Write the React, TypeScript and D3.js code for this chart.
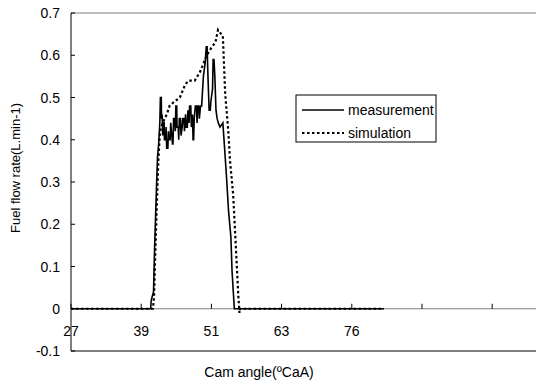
import React from 'react';
import { scaleLinear, line } from 'd3';

// cam angle (deg), fuel flow rate (L/min)
const measurement: [number, number][] = [
  [27, 0], [40.9, 0], [41.0, 0.02], [41.2, 0.03], [41.4, 0.04], [41.6, 0.15], [41.9, 0.28],
  [42.1, 0.36], [42.3, 0.39], [42.5, 0.44], [42.6, 0.5], [42.75, 0.5], [42.8, 0.45], [42.9, 0.46], [43.0, 0.41],
  [43.1, 0.44], [43.25, 0.44], [43.3, 0.4], [43.5, 0.4], [43.6, 0.43], [43.7, 0.38], [43.9, 0.38], [44.0, 0.42],
  [44.1, 0.4], [44.3, 0.4], [44.4, 0.44], [44.6, 0.41], [44.7, 0.39], [44.8, 0.39], [44.9, 0.45], [45.1, 0.45],
  [45.2, 0.42], [45.3, 0.48], [45.45, 0.48], [45.5, 0.43], [45.7, 0.43], [45.8, 0.4], [45.9, 0.45],
  [46.1, 0.45], [46.2, 0.41], [46.4, 0.43], [46.5, 0.45], [46.7, 0.45], [46.8, 0.42], [47.0, 0.46],
  [47.1, 0.43], [47.3, 0.43], [47.4, 0.47], [47.6, 0.44], [47.7, 0.48], [47.9, 0.48], [48.0, 0.43],
  [48.2, 0.46], [48.3, 0.4], [48.4, 0.4], [48.5, 0.45], [48.7, 0.48], [48.9, 0.48], [49.0, 0.44],
  [49.1, 0.48], [49.3, 0.48], [49.4, 0.45], [49.6, 0.48], [49.8, 0.48], [50.1, 0.55], [50.4, 0.58],
  [50.6, 0.62], [50.75, 0.62], [50.9, 0.55], [51.1, 0.47], [51.3, 0.47], [51.4, 0.49], [51.7, 0.52],
  [51.8, 0.59], [51.95, 0.59], [52.1, 0.55], [52.3, 0.47], [52.5, 0.45], [52.7, 0.44], [53.0, 0.43],
  [53.5, 0.44], [53.8, 0.38], [54.1, 0.32], [54.5, 0.23], [54.9, 0.17], [55.1, 0.09], [55.5, 0], [81.6, 0],
];

const simulation: [number, number][] = [
  [27, 0], [41.3, 0], [41.5, 0.03], [41.66, 0.11], [41.96, 0.24], [42.24, 0.35],
  [42.53, 0.42], [43.0, 0.44], [43.7, 0.46], [44.2, 0.48], [45.0, 0.49], [46.0, 0.5],
  [46.9, 0.53], [47.5, 0.54], [48.6, 0.54], [49.5, 0.56], [50.7, 0.6], [51.6, 0.62],
  [52.2, 0.63], [52.65, 0.66], [53.5, 0.645], [53.9, 0.51], [54.45, 0.42], [54.75, 0.35],
  [55.3, 0.27], [55.6, 0.19], [55.9, 0.11], [56.2, 0.03], [56.4, -0.01], [56.5, 0], [81.6, 0],
];

const xTickLabels = ['27', '39', '51', '63', '76'];
const yTicks = [-0.1, 0, 0.1, 0.2, 0.3, 0.4, 0.5, 0.6, 0.7];

const W = 536, H = 387;
const left = 71, top = 13, bottom = 351;
const tickStep = 12.25;
const font = 'Liberation Sans, Arial, sans-serif';

export default function App() {
  const x = scaleLinear().domain([27, 27 + tickStep * 8]).range([left, left + 70.2 * 8]);
  const y = scaleLinear().domain([-0.1, 0.7]).range([bottom, top]);
  const path = line<[number, number]>().x((d) => x(d[0])).y((d) => y(d[1]));
  const xTicks = [...Array(8)].map((_, i) => 27 + i * tickStep);

  return (
    <svg width={W} height={H} style={{ position: 'absolute', left: 0, top: 0, background: '#fff' }}>
      {/* frame */}
      <line x1={left} x2={W} y1={top} y2={top} stroke="#808080" strokeWidth={1} />
      <line x1={left} x2={W} y1={bottom} y2={bottom} stroke="#000" strokeWidth={1} />
      <line x1={left} x2={left} y1={top} y2={bottom} stroke="#000" strokeWidth={1} />
      {/* zero axis */}
      <line x1={left} x2={W} y1={y(0)} y2={y(0)} stroke="#808080" strokeWidth={1} />
      {xTicks.map((t, i) => (
        <g key={'xt' + i}>
          <line x1={x(t)} x2={x(t)} y1={y(0)} y2={y(0) - 5} stroke="#000" />
          {xTickLabels[i] && (
            <text x={x(t)} y={336} textAnchor="middle" fontSize={14} fontFamily={font}>{xTickLabels[i]}</text>
          )}
        </g>
      ))}
      {yTicks.map((t) => (
        <g key={'yt' + t}>
          <line x1={left} x2={left + 4} y1={y(t)} y2={y(t)} stroke="#000" />
          <text x={60} y={y(t) + 5} textAnchor="end" fontSize={14} fontFamily={font}>{t}</text>
        </g>
      ))}
      {/* series */}
      <path d={path(simulation) || ''} fill="none" stroke="#000" strokeWidth={2.2} strokeDasharray="2.5,2.5" />
      <path d={path(measurement) || ''} fill="none" stroke="#000" strokeWidth={1.6} strokeLinejoin="miter" />
      {/* legend */}
      <rect x={296} y={95} width={140} height={47} fill="#fff" stroke="#000" />
      <line x1={302} x2={344} y1={110} y2={110} stroke="#000" strokeWidth={1.3} />
      <text x={348} y={115} fontSize={14} fontFamily={font}>measurement</text>
      <line x1={302} x2={344} y1={133} y2={133} stroke="#000" strokeWidth={2.2} strokeDasharray="2.5,2.5" />
      <text x={348} y={138} fontSize={14} fontFamily={font}>simulation</text>
      {/* axis titles */}
      <text x={259} y={377} textAnchor="middle" fontSize={14} fontFamily={font}>Cam angle(ºCaA)</text>
      <text transform="translate(20,168) rotate(-90)" textAnchor="middle" fontSize={13} fontFamily={font}>Fuel flow rate(L.min-1)</text>
    </svg>
  );
}
